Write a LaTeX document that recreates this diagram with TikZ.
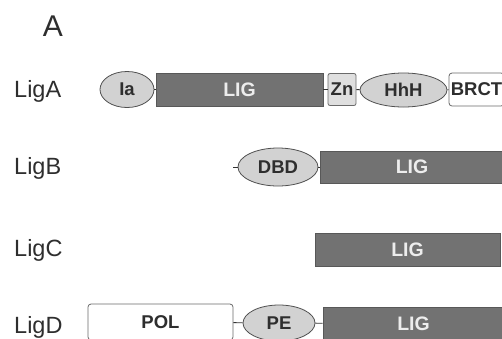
\documentclass[tikz,border=0pt]{standalone}
\usepackage{fontspec}
\setmainfont{Liberation Sans}
\usetikzlibrary{shapes.geometric}
\definecolor{ligfill}{HTML}{727272}
\definecolor{ligdraw}{HTML}{585858}
\definecolor{ellfill}{HTML}{D2D2D2}
\definecolor{elldraw}{HTML}{505050}
\definecolor{txtdark}{HTML}{2E2E2E}
\definecolor{boxdraw}{HTML}{6A6A6A}
\begin{document}
\begin{tikzpicture}[x=1pt,y=-1pt,
  lbl/.style={anchor=base west,inner sep=0,font=\fontsize{23.5}{25}\selectfont,text=txtdark},
  ligbox/.style={draw=ligdraw,fill=ligfill,line width=0.8pt,inner sep=0,
     font=\fontsize{19.5}{21}\selectfont\bfseries,text=white!93!black},
  dom/.style={ellipse,draw=elldraw,fill=ellfill,line width=0.8pt,inner sep=0,
     font=\fontsize{18.5}{20}\selectfont\bfseries,text=txtdark},
  wbox/.style={draw=boxdraw,fill=white,rounded corners=3pt,line width=0.8pt,inner sep=0,
     font=\fontsize{18.5}{20}\selectfont\bfseries,text=txtdark},
  link/.style={draw=black!80,line width=0.8pt}]
\useasboundingbox (0,0) rectangle (502,338);
\node[anchor=center,inner sep=0,font=\fontsize{30}{32}\selectfont,text=txtdark] (title) at (53,26) {A};
% labels
\node[lbl] (la) at (14,97.5) {LigA};
\node[lbl] (lb) at (14,174) {LigB};
\node[lbl] (lc) at (14,256.5) {LigC};
\node[lbl] (ld) at (14,333) {LigD};
% LigA
\node[dom,minimum width=54pt,minimum height=36pt] (ia) at (127,89.5) {Ia};
\node[ligbox,minimum width=167pt,minimum height=33pt] (liga) at (239.5,89.5) {LIG};
\node[wbox,fill=ellfill!70!white,rounded corners=2pt,minimum width=28pt,minimum height=32pt] (zn) at (342,89.5) {Zn};
\node[dom,minimum width=87pt,minimum height=34pt] (hhh) at (403.5,90) {HhH};
\node[wbox,minimum width=55pt,minimum height=33pt] (brct) at (476.5,89.5) {BRCT};
\draw[link] (ia) -- (liga);
\draw[link] (liga) -- (zn);
\draw[link] (zn) -- (hhh);
\draw[link] (hhh) -- (brct);
% LigB
\coordinate (bstub) at (233,167);
\node[dom,minimum width=80pt,minimum height=38pt] (dbd) at (278,167) {DBD};
\node[ligbox,minimum width=184pt,minimum height=32pt] (ligb) at (412,167) {LIG};
\draw[link] (bstub) -- (dbd);
\draw[link] (dbd) -- (ligb);
% LigC
\node[ligbox,minimum width=185pt,minimum height=33pt] (ligc) at (407.5,249.5) {LIG};
% LigD
\node[wbox,minimum width=145pt,minimum height=36pt] (pol) at (160.5,322) {POL};
\node[dom,minimum width=72pt,minimum height=36pt] (pe) at (279,323) {PE};
\node[ligbox,minimum width=181pt,minimum height=33pt] (ligd) at (413.5,323.5) {LIG};
\draw[link] (pol) -- (pe);
\draw[link] (pe) -- (ligd);
\end{tikzpicture}
\end{document}
